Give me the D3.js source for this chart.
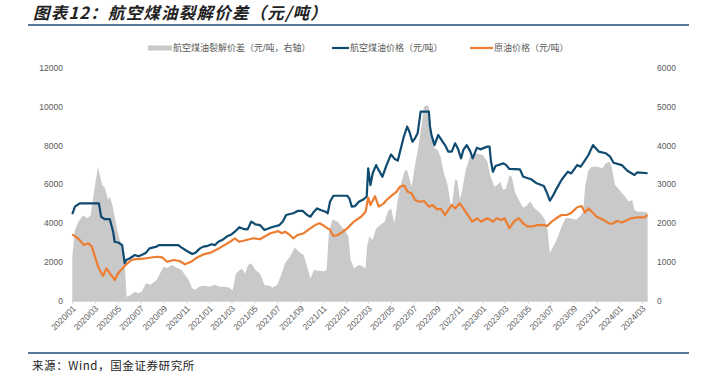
<!DOCTYPE html>
<html>
<head>
<meta charset="utf-8">
<script src="https://cdn.jsdelivr.net/npm/d3@7"></script>
<style>
  body { margin: 0; background: #fff; }
  svg text { font-family: "Liberation Sans", Arial, "Noto Sans CJK SC", sans-serif; }
</style>
</head>
<body>
<div id="chart"></div>
<script>
// 航空煤油价格（元/吨）
const jetFuel = [
  ["2020-01-01",4480],["2020-01-08",4860],["2020-01-21",5030],["2020-03-12",5030],["2020-03-18",4340],
  ["2020-03-27",4220],["2020-04-10",4220],["2020-04-19",3570],["2020-04-23",3050],["2020-05-04",3000],
  ["2020-05-13",2880],["2020-05-20",1940],["2020-05-24",2110],["2020-06-03",2200],["2020-06-16",2370],
  ["2020-06-25",2300],["2020-07-04",2370],["2020-07-16",2490],["2020-07-25",2710],["2020-08-13",2800],
  ["2020-08-19",2880],["2020-10-10",2880],["2020-10-19",2750],["2020-11-01",2590],["2020-11-16",2420],
  ["2020-11-25",2490],["2020-12-07",2710],["2020-12-16",2800],["2020-12-28",2840],["2021-01-07",2920],
  ["2021-01-16",2880],["2021-01-25",3050],["2021-02-04",3140],["2021-02-19",3350],["2021-03-01",3430],
  ["2021-03-10",3570],["2021-03-22",3800],["2021-04-04",3700],["2021-04-13",3690],["2021-04-23",4090],
  ["2021-05-04",3950],["2021-05-16",3910],["2021-05-28",3660],["2021-06-16",3800],["2021-07-07",3910],
  ["2021-07-16",4090],["2021-07-25",4430],["2021-08-04",4480],["2021-08-13",4520],["2021-08-25",4640],
  ["2021-09-07",4640],["2021-09-19",4430],["2021-09-28",4340],["2021-10-07",4600],["2021-10-16",4770],
  ["2021-10-25",4690],["2021-11-07",4600],["2021-11-13",4520],["2021-11-19",5110],["2021-11-28",5420],
  ["2022-01-04",5420],["2022-01-10",5270],["2022-01-16",4860],["2022-01-25",4890],["2022-02-04",5110],
  ["2022-02-17",5240],["2022-02-25",5380],["2022-03-01",6830],["2022-03-07",5970],["2022-03-13",6580],
  ["2022-03-22",7000],["2022-03-29",6740],["2022-04-08",6400],["2022-04-19",7000],["2022-05-01",7550],
  ["2022-05-10",7330],["2022-05-19",7230],["2022-06-04",8460],["2022-06-13",8980],["2022-06-19",8720],
  ["2022-06-27",8200],["2022-07-04",8380],["2022-07-11",8640],["2022-07-19",9750],["2022-08-10",9750],
  ["2022-08-13",8980],["2022-08-17",8550],["2022-08-25",8030],["2022-09-04",8550],["2022-09-13",8290],
  ["2022-09-22",8030],["2022-10-01",7690],["2022-10-10",7690],["2022-10-19",8120],["2022-10-26",7870],
  ["2022-11-04",7350],["2022-11-10",7780],["2022-11-19",8030],["2022-11-28",7730],["2022-12-05",7350],
  ["2022-12-16",7890],["2022-12-25",7810],["2023-01-13",7950],["2023-01-19",7950],["2023-01-23",7170],
  ["2023-01-28",6660],["2023-02-04",6950],["2023-02-25",7090],["2023-03-04",7010],["2023-03-13",6800],
  ["2023-04-10",6780],["2023-04-19",6400],["2023-05-10",6270],["2023-05-25",6060],["2023-06-13",5920],
  ["2023-06-20",5630],["2023-06-29",5170],["2023-07-07",5410],["2023-07-16",5750],["2023-07-30",6230],
  ["2023-08-16",6660],["2023-08-25",6570],["2023-09-10",7000],["2023-09-19",6920],["2023-09-28",7170],
  ["2023-10-10",7520],["2023-10-22",8030],["2023-11-07",7690],["2023-11-25",7610],["2023-12-07",7430],
  ["2023-12-16",7120],["2024-01-07",7000],["2024-01-22",6710],["2024-02-10",6490],["2024-02-17",6620],
  ["2024-03-16",6580]
];

// 原油价格（元/吨）
const crudeOil = [
  ["2020-01-01",3430],["2020-01-16",3230],["2020-02-01",2880],["2020-02-13",2970],["2020-02-22",2800],
  ["2020-03-01",2320],["2020-03-10",1770],["2020-03-19",1430],["2020-03-23",1290],["2020-04-01",1680],
  ["2020-04-10",1430],["2020-04-19",1200],["2020-04-23",1080],["2020-05-01",1390],["2020-05-10",1600],
  ["2020-05-25",1900],["2020-06-07",2110],["2020-06-19",2160],["2020-07-16",2200],["2020-08-13",2280],
  ["2020-08-28",2250],["2020-09-10",2020],["2020-09-28",2110],["2020-10-13",2060],["2020-10-28",1890],
  ["2020-11-13",2020],["2020-11-28",2230],["2020-12-16",2400],["2021-01-04",2490],["2021-01-22",2660],
  ["2021-02-10",2880],["2021-02-25",3050],["2021-03-10",3230],["2021-03-22",3050],["2021-04-10",3140],
  ["2021-04-28",3230],["2021-05-16",3180],["2021-05-25",3280],["2021-06-13",3490],["2021-07-04",3600],
  ["2021-07-13",3490],["2021-07-22",3570],["2021-08-04",3400],["2021-08-13",3230],["2021-08-25",3400],
  ["2021-09-10",3490],["2021-09-22",3660],["2021-10-10",3910],["2021-10-22",4000],["2021-11-04",3860],
  ["2021-11-19",3660],["2021-11-28",3350],["2021-12-10",3400],["2021-12-20",3520],["2022-01-04",3740],
  ["2022-01-22",4090],["2022-02-10",4340],["2022-02-22",4600],["2022-03-01",5330],["2022-03-07",4940],
  ["2022-03-19",5400],["2022-03-29",4860],["2022-04-10",5000],["2022-04-19",5200],["2022-05-01",5400],
  ["2022-05-16",5630],["2022-05-25",5890],["2022-06-05",5950],["2022-06-14",5630],["2022-06-25",5550],
  ["2022-07-04",5200],["2022-07-16",5110],["2022-07-28",5150],["2022-08-10",4860],["2022-08-20",4940],
  ["2022-09-01",4720],["2022-09-11",4750],["2022-09-22",4430],["2022-10-01",4690],["2022-10-10",4940],
  ["2022-10-19",4770],["2022-11-01",5030],["2022-11-10",4770],["2022-11-25",4340],["2022-12-04",4090],
  ["2022-12-16",4260],["2022-12-28",4090],["2023-01-13",4260],["2023-01-19",4200],["2023-01-28",4090],
  ["2023-02-07",4260],["2023-02-19",4170],["2023-02-28",4260],["2023-03-13",3740],["2023-03-25",4090],
  ["2023-04-07",4260],["2023-04-19",3990],["2023-05-01",3830],["2023-05-16",3860],["2023-05-28",3910],
  ["2023-06-13",3910],["2023-06-22",3860],["2023-07-04",4090],["2023-07-16",4260],["2023-07-30",4430],
  ["2023-08-13",4430],["2023-08-26",4550],["2023-09-10",4830],["2023-09-22",4890],["2023-10-01",4550],
  ["2023-10-10",4770],["2023-10-19",4600],["2023-11-01",4340],["2023-11-16",4210],["2023-12-04",4000],
  ["2023-12-13",3980],["2023-12-25",4120],["2024-01-07",4040],["2024-01-22",4170],["2024-02-01",4260],
  ["2024-02-17",4310],["2024-03-07",4310],["2024-03-16",4430]
];

// 航空煤油裂解价差（元/吨，右轴）
const crackSpread = [
  ["2020-01-01",1140],["2020-01-08",1830],["2020-01-17",2040],["2020-01-30",2210],["2020-02-10",2130],
  ["2020-02-19",2200],["2020-02-26",2690],["2020-03-04",3120],["2020-03-10",3460],["2020-03-13",3290],
  ["2020-03-21",2990],["2020-03-28",2910],["2020-04-06",2600],["2020-04-10",2690],["2020-04-17",2470],
  ["2020-04-23",2170],["2020-05-02",1740],["2020-05-08",1530],["2020-05-16",1180],["2020-05-20",930],
  ["2020-05-25",110],["2020-06-04",150],["2020-06-16",240],["2020-06-25",200],["2020-07-04",240],
  ["2020-07-16",460],["2020-07-28",420],["2020-08-13",540],["2020-08-22",710],["2020-09-01",880],
  ["2020-09-10",850],["2020-09-22",930],["2020-10-07",850],["2020-10-19",800],["2020-10-28",670],
  ["2020-11-07",540],["2020-11-16",330],["2020-11-25",290],["2020-12-04",370],["2020-12-19",390],
  ["2021-01-01",370],["2021-01-16",420],["2021-01-28",370],["2021-02-10",370],["2021-02-22",350],
  ["2021-03-04",280],["2021-03-13",710],["2021-03-28",840],["2021-04-07",710],["2021-04-14",930],
  ["2021-04-23",970],["2021-05-04",800],["2021-05-16",710],["2021-05-28",410],["2021-06-10",390],
  ["2021-06-19",350],["2021-07-01",410],["2021-07-13",710],["2021-07-22",970],["2021-08-04",1140],
  ["2021-08-17",1380],["2021-08-28",1270],["2021-09-10",1180],["2021-09-19",880],["2021-09-28",580],
  ["2021-10-07",800],["2021-10-19",780],["2021-11-01",760],["2021-11-10",800],["2021-11-16",1740],
  ["2021-11-25",2100],["2021-12-10",2040],["2021-12-20",1910],["2021-12-29",1830],["2022-01-07",1660],
  ["2022-01-13",1060],["2022-01-22",840],["2022-02-04",930],["2022-02-13",900],["2022-02-22",840],
  ["2022-02-26",1400],["2022-03-04",1660],["2022-03-13",1570],["2022-03-22",1870],["2022-04-01",1950],
  ["2022-04-14",2040],["2022-04-22",2300],["2022-05-01",2390],["2022-05-10",2000],["2022-05-19",2600],
  ["2022-05-28",3030],["2022-06-07",3370],["2022-06-13",3370],["2022-06-25",2940],["2022-07-04",3500],
  ["2022-07-13",3970],["2022-07-22",4570],["2022-07-28",5000],["2022-08-04",5050],["2022-08-10",5000],
  ["2022-08-17",4320],["2022-08-25",3930],["2022-09-02",3900],["2022-09-10",3720],["2022-09-19",3290],
  ["2022-09-28",3030],["2022-10-07",2520],["2022-10-11",2500],["2022-10-19",3120],["2022-10-25",3100],
  ["2022-11-01",2600],["2022-11-07",2860],["2022-11-16",3370],["2022-11-28",3720],["2022-12-16",3800],
  ["2023-01-01",3760],["2023-01-13",3590],["2023-01-22",3200],["2023-02-01",2940],["2023-02-10",3000],
  ["2023-02-16",3070],["2023-02-25",2860],["2023-03-04",2900],["2023-03-13",3240],["2023-03-19",3200],
  ["2023-03-28",2810],["2023-04-07",2600],["2023-04-19",2400],["2023-04-28",2450],["2023-05-07",2560],
  ["2023-05-19",2390],["2023-06-04",2260],["2023-06-16",2090],["2023-06-23",1830],["2023-06-29",1230],
  ["2023-07-05",1350],["2023-07-13",1490],["2023-07-22",1700],["2023-07-30",1910],["2023-08-10",2130],
  ["2023-08-22",2130],["2023-09-07",2090],["2023-09-19",2200],["2023-09-26",2300],["2023-10-01",2940],
  ["2023-10-10",3370],["2023-10-19",3460],["2023-11-04",3460],["2023-11-16",3420],["2023-11-25",3540],
  ["2023-12-05",3590],["2023-12-11",3460],["2023-12-20",2990],["2023-12-29",2900],["2024-01-07",2780],
  ["2024-01-16",2690],["2024-01-25",2560],["2024-02-04",2600],["2024-02-10",2340],["2024-02-19",2300],
  ["2024-03-04",2300],["2024-03-16",2270]
];

const leftTicks = [0, 2000, 4000, 6000, 8000, 10000, 12000];
const rightTicks = [0, 1000, 2000, 3000, 4000, 5000, 6000];
const monthLabels = ["2020/01","2020/03","2020/05","2020/07","2020/09","2020/11",
  "2021/01","2021/03","2021/05","2021/07","2021/09","2021/11",
  "2022/01","2022/03","2022/05","2022/07","2022/09","2022/11",
  "2023/01","2023/03","2023/05","2023/07","2023/09","2023/11",
  "2024/01","2024/03"];

const legendNames = ["航空煤油裂解价差（元/吨，右轴）", "航空煤油价格（元/吨）", "原油价格（元/吨）"];

const W = 715, H = 378;
const plot = { left: 72.3, right: 642, top: 68, bottom: 301 };
const colors = { spread: "#c9c9c9", jet: "#0f4b70", crude: "#ed7d31", text: "#595959", rule: "#1f4e79" };

const parseDate = d3.timeParse("%Y-%m-%d");
const parseMonth = d3.timeParse("%Y/%m");

const x = d3.scaleTime()
  .domain([parseMonth("2020/01"), parseMonth("2024/03")])
  .range([plot.left, plot.right]);
const yLeft = d3.scaleLinear().domain([0, 12000]).range([plot.bottom, plot.top]);
const yRight = d3.scaleLinear().domain([0, 6000]).range([plot.bottom, plot.top]);

const svg = d3.select('#chart').append('svg')
  .attr('width', W)
  .attr('height', H);

// Title + rules
svg.append('text')
  .attr('x', 33).attr('y', 19)
  .text('图表12：航空煤油裂解价差（元/吨）')
  .style('font-family', '"Noto Sans CJK SC", sans-serif')
  .style('font-size', '16.5px')
  .style('font-weight', 'bold')
  .style('font-style', 'italic')
  .style('letter-spacing', '1.2px')
  .style('fill', '#222');

svg.append('line').attr('x1', 28).attr('x2', 689).attr('y1', 25).attr('y2', 25)
  .attr('stroke', colors.rule).attr('stroke-width', 1.5);
svg.append('line').attr('x1', 28).attr('x2', 689).attr('y1', 353).attr('y2', 353)
  .attr('stroke', colors.rule).attr('stroke-width', 1.5);

svg.append('text')
  .attr('x', 32).attr('y', 370)
  .text('来源：Wind，国金证券研究所')
  .style('font-family', '"Noto Sans CJK SC", sans-serif')
  .style('font-size', '11.5px')
  .style('letter-spacing', '0.6px')
  .style('fill', '#222');

// Area (right axis)
const area = d3.area()
  .x(d => x(parseDate(d[0])))
  .y0(yRight(0))
  .y1(d => yRight(d[1]));

svg.append('path')
  .datum(crackSpread)
  .attr('d', area)
  .attr('fill', colors.spread);

// X axis
const xAxis = d3.axisBottom(x)
  .tickValues(monthLabels.map(parseMonth))
  .tickSize(3)
  .tickFormat('');

const xg = svg.append('g')
  .attr('transform', `translate(0,${plot.bottom})`)
  .call(xAxis);
xg.select('.domain').attr('stroke', '#d9d9d9').attr('d', `M${plot.left},0.5H648`);
xg.selectAll('.tick line').attr('stroke', '#d9d9d9');

svg.append('g').selectAll('text')
  .data(monthLabels)
  .enter()
  .append('text')
  .attr('transform', d => `translate(${x(parseMonth(d)) + 2},${plot.bottom + 6}) rotate(-45)`)
  .attr('text-anchor', 'end')
  .attr('dy', '0.35em')
  .text(d => d)
  .style('font-size', '8.5px')
  .style('fill', colors.text);

// Left axis labels
svg.append('g').selectAll('text')
  .data(leftTicks)
  .enter()
  .append('text')
  .attr('x', 63)
  .attr('y', d => yLeft(d))
  .attr('dy', '0.35em')
  .attr('text-anchor', 'end')
  .text(d => d)
  .style('font-size', '8.5px')
  .style('fill', colors.text);

// Right axis labels
svg.append('g').selectAll('text')
  .data(rightTicks)
  .enter()
  .append('text')
  .attr('x', 657)
  .attr('y', d => yRight(d))
  .attr('dy', '0.35em')
  .text(d => d)
  .style('font-size', '8.5px')
  .style('fill', colors.text);

// Lines (left axis)
const line = d3.line()
  .x(d => x(parseDate(d[0])))
  .y(d => yLeft(d[1]));

svg.append('path')
  .datum(jetFuel)
  .attr('d', line)
  .attr('fill', 'none')
  .attr('stroke', colors.jet)
  .attr('stroke-width', 2.2)
  .attr('stroke-linejoin', 'round');

svg.append('path')
  .datum(crudeOil)
  .attr('d', line)
  .attr('fill', 'none')
  .attr('stroke', colors.crude)
  .attr('stroke-width', 2.2)
  .attr('stroke-linejoin', 'round');

// Legend
const legend = svg.append('g');
legend.append('rect').attr('x', 148).attr('y', 45.5).attr('width', 24).attr('height', 5).attr('fill', colors.spread);
legend.append('text').attr('x', 173).attr('y', 48).attr('dy', '0.35em').text(legendNames[0])
  .style('font-size', '9px').style('fill', colors.text);
legend.append('line').attr('x1', 332).attr('x2', 349).attr('y1', 48).attr('y2', 48)
  .attr('stroke', colors.jet).attr('stroke-width', 2.2);
legend.append('text').attr('x', 350).attr('y', 48).attr('dy', '0.35em').text(legendNames[1])
  .style('font-size', '9px').style('fill', colors.text);
legend.append('line').attr('x1', 470).attr('x2', 493).attr('y1', 48).attr('y2', 48)
  .attr('stroke', colors.crude).attr('stroke-width', 2.2);
legend.append('text').attr('x', 494).attr('y', 48).attr('dy', '0.35em').text(legendNames[2])
  .style('font-size', '9px').style('fill', colors.text);
</script>
</body>
</html>
